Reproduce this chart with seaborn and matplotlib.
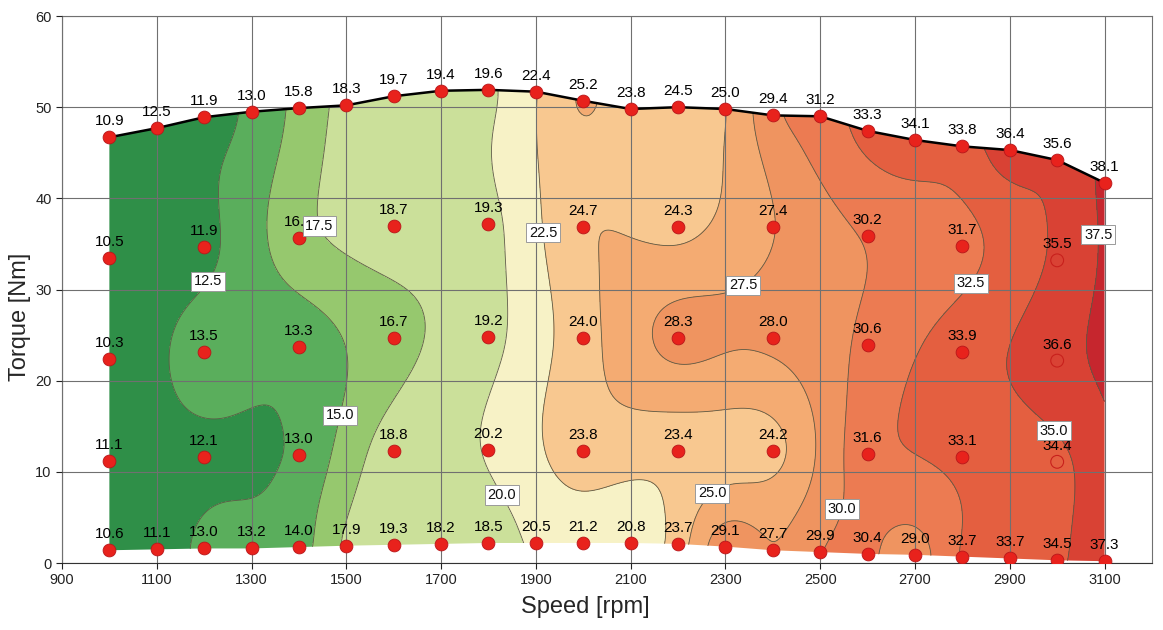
import numpy as np
import pandas as pd
import matplotlib
matplotlib.use("Agg")
import matplotlib.pyplot as plt
from matplotlib.patches import Polygon
import seaborn as sns

# ---------------- data ----------------
edge_speed = [1000, 1100, 1200, 1300, 1400, 1500, 1600, 1700, 1800, 1900, 2000,
              2100, 2200, 2300, 2400, 2500, 2600, 2700, 2800, 2900, 3000, 3100]
top_torque = [46.7, 47.7, 48.9, 49.5, 49.9, 50.2, 51.2, 51.8, 51.9, 51.7, 50.7,
              49.8, 50.0, 49.8, 49.1, 49.0, 47.4, 46.4, 45.7, 45.3, 44.2, 41.7]
top_vals = [10.9, 12.5, 11.9, 13.0, 15.8, 18.3, 19.7, 19.4, 19.6, 22.4, 25.2,
            23.8, 24.5, 25.0, 29.4, 31.2, 33.3, 34.1, 33.8, 36.4, 35.6, 38.1]
bot_torque = [1.4, 1.5, 1.6, 1.6, 1.75, 1.9, 2.0, 2.1, 2.2, 2.2, 2.2,
              2.2, 2.1, 1.8, 1.4, 1.2, 1.0, 0.9, 0.7, 0.5, 0.3, 0.2]
bot_vals = [10.6, 11.1, 13.0, 13.2, 14.0, 17.9, 19.3, 18.2, 18.5, 20.5, 21.2,
            20.8, 23.7, 29.1, 27.7, 29.9, 30.4, 29.0, 32.7, 33.7, 34.5, 37.3]

mid_speed = [1000, 1200, 1400, 1600, 1800, 2000, 2200, 2400, 2600, 2800, 3000]
rowA_torque = [33.5, 34.7, 35.6, 37.0, 37.2, 36.9, 36.9, 36.9, 35.9, 34.8, 33.2]
rowA_vals = [10.5, 11.9, 16.7, 18.7, 19.3, 24.7, 24.3, 27.4, 30.2, 31.7, 35.5]
rowB_torque = [22.4, 23.1, 23.7, 24.7, 24.8, 24.7, 24.7, 24.7, 23.9, 23.1, 22.2]
rowB_vals = [10.3, 13.5, 13.3, 16.7, 19.2, 24.0, 28.3, 28.0, 30.6, 33.9, 36.6]
rowC_torque = [11.2, 11.6, 11.8, 12.3, 12.4, 12.3, 12.3, 12.3, 12.0, 11.6, 11.1]
rowC_vals = [11.1, 12.1, 13.0, 18.8, 20.2, 23.8, 23.4, 24.2, 31.6, 33.1, 34.4]
hollow_speed = 3000  # mid-row points drawn as open circles

levels = [12.5, 15.0, 17.5, 20.0, 22.5, 25.0, 27.5, 30.0, 32.5, 35.0, 37.5]
x_ticks = [900, 1100, 1300, 1500, 1700, 1900, 2100, 2300, 2500, 2700, 2900, 3100]
y_ticks = [0, 10, 20, 30, 40, 50, 60]
# approximate spots of the contour labels
label_spots = {12.5: (1208, 30.9), 15.0: (1478, 16.3), 17.5: (1470, 37.4),
               20.0: (1807, 6.9), 22.5: (1910, 36.2), 25.0: (2280, 7.2),
               27.5: (2339, 30.3), 30.0: (2575, 5.6), 32.5: (2818, 30.7),
               35.0: (2993, 14.5), 37.5: (3088, 36.0)}

fill_colors = ['#2f8f48', '#5aae5c', '#96c86e', '#cbe09a', '#f7f2c6', '#f8c890',
               '#f4ab72', '#ef9460', '#ec7b52', '#e45f40', '#d94234', '#c6262e']

# ---------------- assemble ----------------
parts = [
    (edge_speed, top_torque, top_vals, False),
    (mid_speed, rowA_torque, rowA_vals, True),
    (mid_speed, rowB_torque, rowB_vals, True),
    (mid_speed, rowC_torque, rowC_vals, True),
    (edge_speed, bot_torque, bot_vals, False),
]
frames = []
for sp, tq, vl, mid in parts:
    f = pd.DataFrame({'speed': sp, 'torque': tq, 'val': vl})
    f['hollow'] = mid & (f['speed'] == hollow_speed)
    frames.append(f)
df = pd.concat(frames, ignore_index=True)

# thin-plate spline surface for the contour rendering
def tps(r):
    with np.errstate(divide='ignore', invalid='ignore'):
        out = r ** 2 * np.log(r)
    return np.nan_to_num(out)

sx, sy = 200.0, 12.0
px = df['speed'].to_numpy() / sx
py = df['torque'].to_numpy() / sy
pz = df['val'].to_numpy()
n = len(pz)
A = tps(np.hypot(px[:, None] - px[None, :], py[:, None] - py[None, :]))
P = np.column_stack([np.ones(n), px, py])
M = np.zeros((n + 3, n + 3))
M[:n, :n] = A
M[:n, n:] = P
M[n:, :n] = P.T
rhs = np.concatenate([pz, np.zeros(3)])
coef = np.linalg.solve(M, rhs)
w, a = coef[:n], coef[n:]

gx = np.linspace(min(edge_speed), max(edge_speed), 420)
gy = np.linspace(0, 53, 320)
GX, GY = np.meshgrid(gx, gy)
qx, qy = GX.ravel() / sx, GY.ravel() / sy
Z = np.zeros(qx.size)
for i in range(0, qx.size, 20000):
    r = np.hypot(qx[i:i + 20000, None] - px[None, :], qy[i:i + 20000, None] - py[None, :])
    Z[i:i + 20000] = tps(r) @ w + a[0] + a[1] * qx[i:i + 20000] + a[2] * qy[i:i + 20000]
Z = Z.reshape(GX.shape)

# ---------------- plot ----------------
sns.set_theme(style='white')
plt.rcParams['font.family'] = ['Liberation Sans', 'DejaVu Sans']

fig, ax = plt.subplots(figsize=(11.63, 6.3), dpi=100)
fig.subplots_adjust(left=0.0533, right=0.9905, top=0.9746, bottom=0.1063)

region = Polygon(np.column_stack([edge_speed + edge_speed[::-1],
                                  bot_torque + top_torque[::-1]]),
                 closed=True, transform=ax.transData)

fill_levels = [0] + levels + [60]
cf = ax.contourf(GX, GY, Z, levels=fill_levels, colors=fill_colors, zorder=1)
cf.set_clip_path(region)

for lev in levels:
    cl = ax.contour(GX, GY, Z, levels=[lev], colors='#5b5a45', linewidths=0.6, zorder=2)
    cl.set_clip_path(region)
    if len(cl.allsegs[0]) == 0:
        continue
    ax.clabel(cl, manual=[label_spots[lev]], inline=False,
              fmt='%.1f', fontsize=10.5, colors='#111111')
    for t in cl.labelTexts:
        t.set_rotation(0)
        t.set_bbox(dict(boxstyle='square,pad=0.18', fc='white', ec='#9a9a9a', lw=0.7))
        t.set_zorder(6)
        t.set_clip_on(False)

sns.lineplot(x=edge_speed, y=top_torque, color='black', lw=1.8, ax=ax,
             zorder=3, sort=False, estimator=None)

solid = df[~df['hollow']]
hollow = df[df['hollow']]
sns.scatterplot(data=solid, x='speed', y='torque', s=85, color='#e8221c',
                edgecolor='#b8161a', linewidth=0.6, ax=ax, zorder=4, legend=False)
ax.scatter(hollow['speed'], hollow['torque'], s=85, facecolors='none',
           edgecolors='#c8201c', linewidths=0.8, zorder=4)

for _, row in df.iterrows():
    ax.annotate(f"{row['val']:.1f}", (row['speed'], row['torque']),
                xytext=(0, 6.5), textcoords='offset points', ha='center', va='bottom',
                fontsize=11, color='#000000', zorder=5)

ax.set_xlim(900, 3200)
ax.set_ylim(0, 60)
ax.set_xticks(x_ticks)
ax.set_yticks(y_ticks)
ax.set_axisbelow(False)
ax.grid(True, color='#707070', lw=0.8, zorder=2.5)
ax.tick_params(axis='both', labelsize=10.5, colors='#222222', length=4, width=0.8,
               bottom=True, left=True, direction='out')
for s in ax.spines.values():
    s.set_color('#707070')
    s.set_linewidth(0.8)
ax.spines['left'].set_color('#333333')
ax.spines['bottom'].set_color('#333333')

ax.set_xlabel('Speed [rpm]', fontsize=17)
ax.set_ylabel('Torque [Nm]', fontsize=17)
ax.xaxis.set_label_coords(0.48, -0.06)
ax.yaxis.set_label_coords(-0.028, 0.45)

fig.savefig('out.png', dpi=100)
